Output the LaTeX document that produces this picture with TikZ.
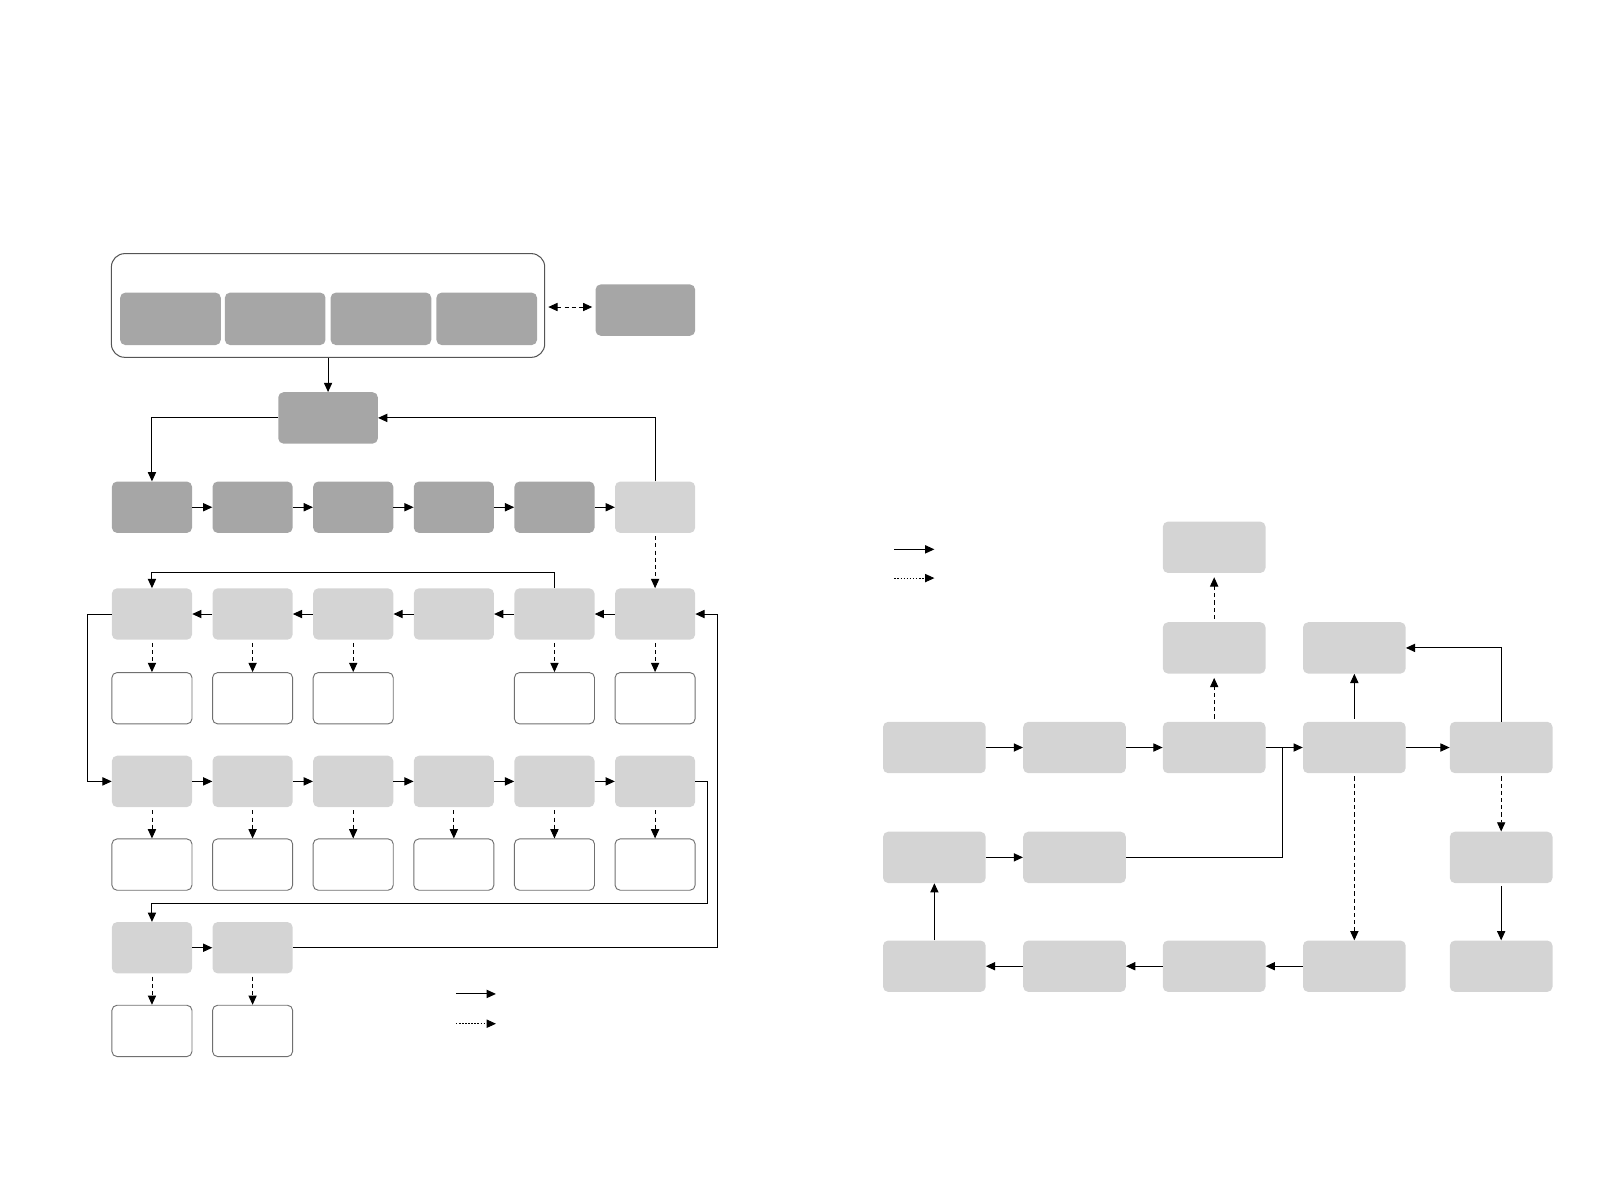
\documentclass[tikz,border=0pt]{standalone}
\usetikzlibrary{arrows.meta}
\definecolor{dkgray}{HTML}{A6A6A6}
\definecolor{ltgray}{HTML}{D4D4D4}
\definecolor{edgegray}{HTML}{707070}
\definecolor{contgray}{HTML}{555555}
\begin{document}
\begin{tikzpicture}[x=1pt,y=-1pt,
  base/.style={rectangle, rounded corners=5, inner sep=0},
  dk/.style={base, fill=dkgray},
  lt/.style={base, fill=ltgray},
  wt/.style={base, draw=edgegray, line width=0.9, fill=white},
  sm/.style={minimum width=78, minimum height=50},
  bg/.style={minimum width=100, minimum height=50},
  arr/.style={line width=1, -{Triangle[length=9,width=8]}},
  darr/.style={line width=0.9, dash pattern=on 4 off 3, -{Triangle[length=9,width=8]}, shorten <=3},
  dotarr/.style={line width=0.9, dash pattern=on 1.5 off 1.5, -{Triangle[length=9,width=8]}},
  ln/.style={line width=1}]
\useasboundingbox (0,0) rectangle (1568,1160);

% ---------- left diagram ----------
\node[base, draw=contgray, line width=1, rounded corners=13, minimum width=422, minimum height=101] (cont) at (319.5,297.5) {};
\foreach \x [count=\i] in {166,268,371,474}
  \node[dk, minimum width=98, minimum height=51] (in\i) at (\x,310.5) {};
\node[dk, minimum width=97, minimum height=50] (rbox) at (628.5,302) {};
\node[dk, minimum width=97, minimum height=50] (B) at (319.5,407) {};

% rows
\foreach \x [count=\i] in {148,246,344,442,540} \node[dk, sm] (r1c\i) at (\x,494) {};
\node[lt, sm] (r1c6) at (638,494) {};
\foreach \x [count=\i] in {148,246,344,442,540,638} \node[lt, sm] (r2c\i) at (\x,598) {};
\foreach \i/\x in {1/148,2/246,3/344,5/540,6/638} \node[wt, sm] (r3c\i) at (\x,680) {};
\foreach \x [count=\i] in {148,246,344,442,540,638} \node[lt, sm] (r4c\i) at (\x,761) {};
\foreach \x [count=\i] in {148,246,344,442,540,638} \node[wt, sm] (r5c\i) at (\x,842) {};
\foreach \x [count=\i] in {148,246} \node[lt, sm] (r6c\i) at (\x,923) {};
\foreach \x [count=\i] in {148,246} \node[wt, sm] (r7c\i) at (\x,1004) {};

% connectors left
\draw[line width=0.9, dash pattern=on 4 off 3, {Triangle[length=9,width=8]}-{Triangle[length=9,width=8]}, shorten <=3, shorten >=3] ([yshift=-1.5]cont.east) -- ([yshift=-1.5]cont.east -| rbox.west);
\draw[arr] (cont.south) -- (B.north);
\draw[arr] (B.west) -| (r1c1.north);
\draw[arr] (r1c6.north) |- (B.east);
\foreach \i [evaluate=\i as \j using int(\i+1)] in {1,...,5}
  \draw[arr] (r1c\i.east) -- (r1c\j.west);
\draw[darr] (r1c6.south) -- (r2c6.north);
\foreach \i [evaluate=\i as \j using int(\i+1)] in {1,...,5}
  \draw[arr] (r2c\j.west) -- (r2c\i.east);
\coordinate (t1) at (540,558);
\draw[arr] (r2c5.north) -- (t1) -| (r2c1.north);
\coordinate (t2) at (85,598);
\draw[arr] (r2c1.west) -- (t2) |- (r4c1.west);
\foreach \i in {1,2,3,5,6}
  \draw[darr] (r2c\i.south) -- (r3c\i.north);
\foreach \i [evaluate=\i as \j using int(\i+1)] in {1,...,5}
  \draw[arr] (r4c\i.east) -- (r4c\j.west);
\foreach \i in {1,...,6}
  \draw[darr] (r4c\i.south) -- (r5c\i.north);
\coordinate (k1) at (689,880);
\draw[arr] (r4c6.east) -| (k1) -| (r6c1.north);
\draw[arr] (r6c1.east) -- (r6c2.west);
\coordinate (k2) at (699,598);
\draw[arr] (r6c2.east) -| (k2) -- (r2c6.east);
\foreach \i in {1,2}
  \draw[darr] (r6c\i.south) -- (r7c\i.north);

% legend left
\coordinate (la1) at (444,968); \coordinate (la2) at (483,968);
\coordinate (lb1) at (444,997); \coordinate (lb2) at (483,997);
\draw[arr] (la1) -- (la2);
\draw[dotarr] (lb1) -- (lb2);

% ---------- right diagram ----------
\node[lt, bg] (T) at (1182.5,533) {};
\node[lt, bg] (S2) at (1182.5,631) {};
\node[lt, bg] (S4) at (1319,631) {};
\foreach \x [count=\i] in {910,1046.5,1182.5,1319,1462} \node[lt, bg] (m\i) at (\x,728) {};
\node[lt, bg] (d1) at (910,835) {};
\node[lt, bg] (d2) at (1046.5,835) {};
\node[lt, bg] (d5) at (1462,835) {};
\foreach \x [count=\i] in {910,1046.5,1182.5,1319,1462} \node[lt, bg] (b\i) at (\x,941) {};

\foreach \i [evaluate=\i as \j using int(\i+1)] in {1,...,4}
  \draw[arr] (m\i.east) -- (m\j.west);
\draw[darr] (m3.north) -- ([yshift=-4]S2.south);
\draw[darr] (S2.north) -- ([yshift=-4]T.south);
\draw[arr] ([yshift=3]m4.north) -- (S4.south);
\draw[arr] (m5.north) |- (S4.east);
\draw[darr] (m5.south) -- (d5.north);
\draw[arr] ([yshift=-3]d5.south) -- (b5.north);
\draw[darr] (m4.south) -- (b4.north);
\foreach \i [evaluate=\i as \j using int(\i+1)] in {1,...,3}
  \draw[arr] (b\j.west) -- (b\i.east);
\draw[arr] (b1.north) -- (d1.south);
\draw[arr] (d1.east) -- (d2.west);
\coordinate (jn) at (1249,728);
\draw[ln] (d2.east) -| (jn);

% legend right
\coordinate (ra1) at (871,535); \coordinate (ra2) at (910,535);
\coordinate (rb1) at (871,563); \coordinate (rb2) at (910,563);
\draw[arr] (ra1) -- (ra2);
\draw[dotarr] (rb1) -- (rb2);
\end{tikzpicture}
\end{document}
